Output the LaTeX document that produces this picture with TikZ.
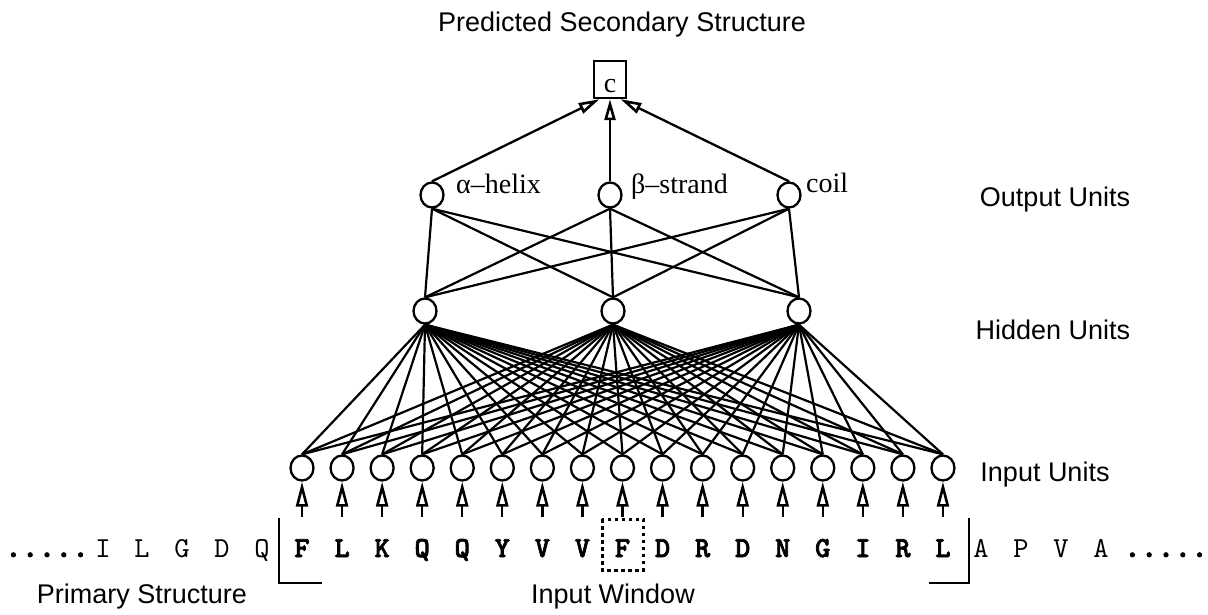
\documentclass[tikz,border=0pt]{standalone}
\usepackage{fontspec}
\setmainfont{Liberation Serif}
\setsansfont{Liberation Sans}
\setmonofont{lmmono10-regular.otf}[BoldFont=lmmonolt10-bold.otf,BoldFeatures={FakeBold=2.5}]
\usetikzlibrary{arrows.meta,shapes.geometric}
\begin{document}
\begin{tikzpicture}[x=1pt,y=-1pt,
  unit/.style={draw,ellipse,minimum width=23pt,minimum height=25pt,inner sep=0pt,line width=2.3pt},
  conn/.style={line width=2.2pt},
  inarrow/.style={line width=2.3pt,-{Triangle[open,length=25pt,width=12pt,line width=2.6pt]}},
  outarrow/.style={line width=2.3pt,-{Triangle[open,length=21pt,width=11pt,line width=2.6pt]}},
  lab/.style={font=\sffamily\fontsize{27}{30}\selectfont,inner sep=0pt},
  glab/.style={font=\rmfamily\fontsize{28}{30}\selectfont,inner sep=0pt,anchor=base west},
  seqb/.style={font=\ttfamily\bfseries\fontsize{29}{30}\selectfont,inner sep=0pt,anchor=base},
  seq/.style={font=\ttfamily\fontsize{29}{30}\selectfont,inner sep=0pt,anchor=base},
  dots/.style={font=\ttfamily\bfseries\fontsize{32}{30}\selectfont,inner sep=0pt,anchor=base},
  brk/.style={line width=2.3pt}]
\useasboundingbox (0,0) rectangle (1208,614);

% titles
\node[lab] (title) at (622,25) {Predicted Secondary Structure};
\node[lab] (outlab) at (1055,200) {Output Units};
\node[lab] (hidlab) at (1053,330) {Hidden Units};
\node[lab] (inlab) at (1045,475) {Input Units};
\node[lab] (prim) at (142,597) {Primary Structure};
\node[lab] (win) at (613,597) {Input Window};

% output box
\node[draw,line width=2.3pt,minimum width=32pt,minimum height=37pt,inner sep=0pt,
      text height=26pt,text depth=0pt,
      font=\rmfamily\fontsize{28}{30}\selectfont] (box) at (610,79.5) {c};

% output units
\node[unit] (o1) at (432,195) {};
\node[unit] (o2) at (610,195) {};
\node[unit] (o3) at (789,195) {};
\node[glab] (l1) at (456,193) {α–helix};
\node[glab] (l2) at (631,193) {β–strand};
\node[glab] (l3) at (806,192) {coil};

\draw[outarrow] (o1.north) -- (box.-118);
\draw[outarrow] (o2.north) -- (box.south);
\draw[outarrow] (o3.north) -- (box.-62);

% hidden units
\node[unit] (h1) at (425,311) {};
\node[unit] (h2) at (613,311) {};
\node[unit] (h3) at (799,311) {};

\foreach \o in {1,2,3}
  \foreach \h in {1,2,3}
    \draw[conn] (o\o.south) -- (h\h.north);

% input units and sequence
\foreach \i [count=\n from 0] in {F,L,K,Q,Q,Y,V,V,F,D,R,D,N,G,I,R,L} {
  \pgfmathsetmacro{\xx}{302+40.06*\n}
  \node[unit] (in\n) at (\xx,468) {};
  \coordinate (a\n) at (\xx,517);
  \node[seqb] (s\n) at (\xx,557) {\i};
  \draw[inarrow] (a\n) -- (in\n.south);
  \foreach \h in {1,2,3}
    \draw[conn] (h\h.south) -- (in\n.north);
}

% flanking sequence
\node[dots] (dl) at (47,557) {.....};
\foreach \c/\x [count=\k] in {I/103,L/142,G/182,D/222,Q/262}
  \node[seq] (pl\k) at (\x,557) {\c};
\foreach \c/\x [count=\k] in {A/981,P/1021,V/1061,A/1101}
  \node[seq] (pr\k) at (\x,557) {\c};
\node[dots] (dr) at (1166,557) {.....};

% window brackets
\coordinate (bl1) at (279,518);
\coordinate (bl2) at (279,583);
\coordinate (bl3) at (322,583);
\draw[brk] (bl1) -- (bl2) -- (bl3);
\coordinate (br1) at (969,518);
\coordinate (br2) at (969,583);
\coordinate (br3) at (929,583);
\draw[brk] (br1) -- (br2) -- (br3);

% dotted box around center residue
\draw[line width=3pt,dash pattern=on 3.5pt off 3.5pt] (602,519) rectangle (643,570);
\end{tikzpicture}
\end{document}
